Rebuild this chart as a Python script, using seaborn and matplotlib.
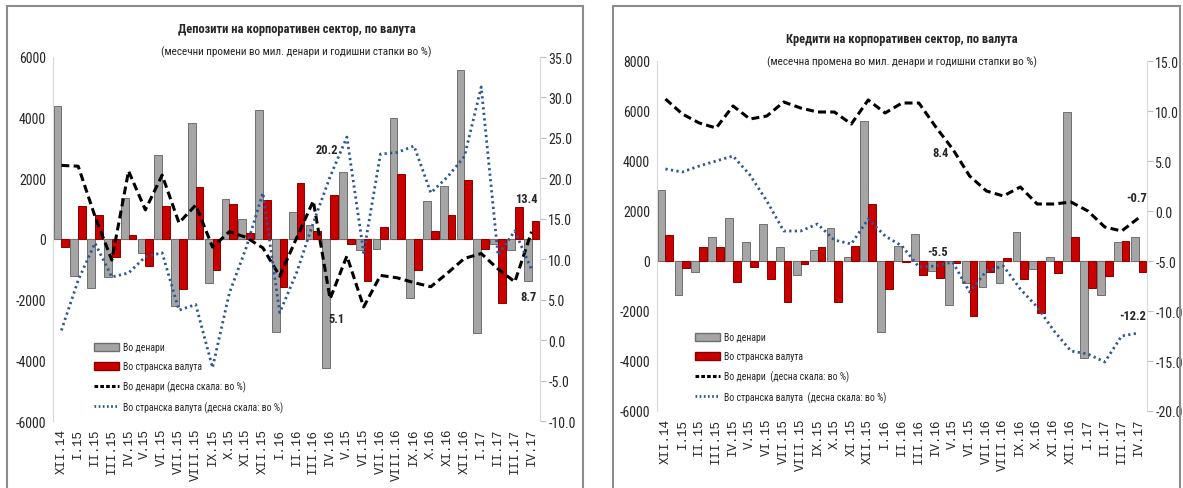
import numpy as np
import pandas as pd
import matplotlib
matplotlib.use('agg')
import matplotlib.pyplot as plt
from matplotlib import font_manager
from matplotlib.lines import Line2D
from matplotlib.patches import Patch, Rectangle
import seaborn as sns

sns.set_style('white')

avail = {f.name for f in font_manager.fontManager.ttflist}
NARROW = next((f for f in ['Liberation Sans Narrow', 'Roboto Condensed', 'Open Sans Condensed']
               if f in avail), 'DejaVu Sans')
MONO = 'Liberation Mono' if 'Liberation Mono' in avail else 'DejaVu Sans Mono'
plt.rcParams['font.family'] = [NARROW, 'DejaVu Sans']

# ---- data ----
months = ["XII.14", "I.15", "II.15", "III.15", "IV.15", "V.15", "VI.15", "VII.15",
          "VIII.15", "IX.15", "X.15", "XI.15", "XII.15", "I.16", "II.16", "III.16",
          "IV.16", "V.15", "VI.15", "VII.16", "VIII.16", "IX.16", "X.16", "XI.16",
          "XII.16", "I.17", "II.17", "III.17", "IV.17"]

# deposits: monthly changes (mil. denars) and annual rates (%)
dep_den = [4400, -1210, -1630, -1240, 1340, -470, 2770, -2210, 3830, -1440, 1310, 660,
           4260, -3080, 890, 450, -4250, 2200, -350, -320, 4000, -1950, 1260, 1740,
           5560, -3100, -150, -350, -1400]
dep_fx = [-280, 1090, 780, -580, 130, -890, 1090, -1650, 1725, -1020, 1140, 210,
          1280, -1570, 1830, 280, 1450, -180, -1390, 400, 2150, -1020, 250, 780,
          1960, -340, -2100, 1050, 600]
dep_den_yoy = [21.6, 21.5, 15.3, 9.9, 20.9, 16.1, 20.4, 14.5, 16.7, 11.5, 13.4, 12.7,
               11.4, 7.9, 12.6, 17.2, 5.1, 10.4, 4.1, 8.0, 7.7, 7.1, 6.6, 8.3,
               10.1, 10.7, 8.8, 7.2, 13.4]
dep_fx_yoy = [1.2, 7.4, 12.0, 7.8, 8.3, 10.3, 10.8, 3.7, 4.4, -3.4, 5.8, 11.4,
              18.2, 3.4, 8.3, 14.5, 20.2, 25.1, 10.8, 23.0, 23.2, 24.0, 18.2, 20.2,
              22.7, 31.3, 10.5, 13.5, 8.7]

# credits: monthly change (mil. denars) and annual rates (%)
cred_den = [2830, -1360, -430, 960, 1710, 770, 1490, 560, -560, 430, 1310, 170,
            5600, -2850, 600, 1070, -400, -1770, -870, -1030, -870, 1160, -330, 160,
            5960, -3890, -1360, 760, 960]
cred_fx = [1040, -290, 560, 560, -840, -240, -730, -1630, -100, 570, -1630, 600,
           2290, -1130, -50, -570, -670, -90, -2200, -440, 130, -730, -2070, -490,
           960, -1090, -600, 800, -440]
cred_den_yoy = [11.2, 9.7, 8.8, 8.3, 10.5, 9.2, 9.5, 10.9, 10.3, 9.9, 9.9, 8.7,
                11.1, 9.8, 10.8, 10.8, 8.4, 6.2, 3.5, 2.0, 1.5, 2.4, 0.7, 0.7,
                0.9, 0.0, -1.6, -2.0, -0.7]
cred_fx_yoy = [4.2, 3.9, 4.5, 5.0, 5.5, 3.6, 1.0, -2.0, -2.0, -1.3, -2.9, -3.3,
               -0.8, -2.5, -3.5, -5.6, -5.5, -5.1, -8.1, -6.0, -5.5, -7.8, -9.6, -12.0,
               -14.0, -14.3, -15.1, -12.5, -12.2]

lbl_bar = ["Во денари", "Во странска валута"]
GRAY, RED = '#a5a5a5', '#c80000'
BLUE = '#2f5597'

W, H = 1183, 489
fig = plt.figure(figsize=(W / 100, H / 100), dpi=100)


def box(x0, y0, x1, y1):
    return [x0 / W, 1 - y1 / H, (x1 - x0) / W, (y1 - y0) / H]


def panel(rect, den, fx, den_yoy, fx_yoy, ylim, yticks, y2lim, y2ticks,
          title, subtitle, title_y, legend_xy, line_labels, annots):
    n = len(months)
    ax = fig.add_axes(rect)
    df = pd.DataFrame({'idx': np.tile(np.arange(n), 2),
                       'value': den + fx,
                       'series': [lbl_bar[0]] * n + [lbl_bar[1]] * n})
    sns.barplot(data=df, x='idx', y='value', hue='series', palette=[GRAY, RED],
                saturation=1, width=0.92, ax=ax, legend=False,
                edgecolor=None, linewidth=0)
    for bars, ec in zip(ax.containers, ['#6f6f6f', '#8a0000']):
        for b in bars:
            b.set_edgecolor(ec)
            b.set_linewidth(0.7)
    ax.axhline(0, color='#f0b0b0', lw=1, zorder=0.5)
    ax.set_ylim(ylim)
    ax.set_yticks(yticks)
    ax.set_yticklabels([f'{v:d}' for v in yticks], fontsize=10)
    ax.set_xlim(-0.5, n - 0.5)
    ax.set_xticks(range(n))
    ax.set_xticklabels(months, rotation=90, fontsize=9, family=MONO)
    ax.tick_params(axis='both', length=0, pad=5)
    ax.set_xlabel('')
    ax.set_ylabel('')
    for s in ['top', 'right', 'bottom']:
        ax.spines[s].set_visible(False)
    ax.spines['left'].set_color('#d9d9d9')

    ax2 = ax.twinx()
    x = np.arange(n)
    sns.lineplot(x=x, y=den_yoy, ax=ax2, color='black', linewidth=2.2,
                 linestyle=(0, (2.6, 1.4)))
    sns.lineplot(x=x, y=fx_yoy, ax=ax2, color=BLUE, linewidth=2.0,
                 linestyle=(0, (0.8, 1.2)))
    ax2.set_ylim(y2lim)
    ax2.set_yticks(y2ticks)
    ax2.set_yticklabels([f'{v:.1f}' for v in y2ticks], fontsize=10)
    ax2.tick_params(axis='y', length=4, color='#bfbfbf', pad=2)
    for s in ['top', 'left', 'bottom']:
        ax2.spines[s].set_visible(False)
    ax2.spines['right'].set_color('#d9d9d9')

    for series, i, dx, dy in annots:
        vals = den_yoy if series == 'den' else fx_yoy
        ax2.annotate(f'{vals[i]:.1f}', xy=(i, vals[i]), xytext=(dx, dy),
                     textcoords='offset pixels', ha='center', va='center',
                     fontsize=9, fontweight='bold')

    handles = [Patch(facecolor=GRAY, edgecolor='#6f6f6f'),
               Patch(facecolor=RED, edgecolor='#8a0000'),
               Line2D([], [], color='black', lw=2.2, linestyle=(0, (1.2, 0.7))),
               Line2D([], [], color=BLUE, lw=2.0, linestyle=(0, (0.6, 0.9)))]
    ax2.legend(handles, lbl_bar + line_labels, loc='upper left',
               bbox_to_anchor=(legend_xy[0] / W, 1 - legend_xy[1] / H),
               bbox_transform=fig.transFigure, frameon=False, fontsize=7,
               handlelength=2.6, handleheight=0.9, labelspacing=0.95,
               borderpad=0, handletextpad=0.4, borderaxespad=0)

    cx = (rect[0] + rect[2] / 2)
    fig.text(cx, 1 - title_y / H, title, ha='center', va='center',
             fontsize=9, fontweight='bold')
    fig.text(cx, 1 - (title_y + 22) / H, subtitle, ha='center', va='center',
             fontsize=8)
    return ax, ax2


panel(box(53, 58, 540, 422), dep_den, dep_fx, dep_den_yoy, dep_fx_yoy,
      (-6000, 6000), list(range(-6000, 6001, 2000)),
      (-10, 35), [-10.0, -5.0, 0.0, 5.0, 10.0, 15.0, 20.0, 25.0, 30.0, 35.0],
      "Депозити на корпоративен сектор, по валута",
      "(месечни промени во мил. денари и годишни стапки во %)", 30, (94, 343),
      ["Во денари (десна скала: во %)", "Во странска валута (десна скала: во %)"],
      [('fx', 16, -3, 27), ('den', 16, 6, -20), ('den', 28, -5, 33), ('fx', 28, -3, -27)])

panel(box(657, 62, 1147, 412), cred_den, cred_fx, cred_den_yoy, cred_fx_yoy,
      (-6000, 8000), list(range(-6000, 8001, 2000)),
      (-20, 15), [-20.0, -15.0, -10.0, -5.0, 0.0, 5.0, 10.0, 15.0],
      "Кредити на корпоративен сектор, по валута",
      "(месечна промена во мил. денари и годишни стапки во %)", 40, (695, 333),
      ["Во денари  (десна скала: во %)", "Во странска валута  (десна скала: во %)"],
      [('den', 16, 5, -25), ('fx', 16, 2, 15), ('den', 28, -2, 21), ('fx', 28, -6, 17)])

for x0, x1 in [(7, 583), (613, 1180)]:
    fig.add_artist(Rectangle((x0 / W, -0.05), (x1 - x0) / W, 1.05 - 7 / H,
                             transform=fig.transFigure, fill=False,
                             edgecolor='#8c8c8c', lw=1.5))

fig.savefig('out.png', dpi=100)
